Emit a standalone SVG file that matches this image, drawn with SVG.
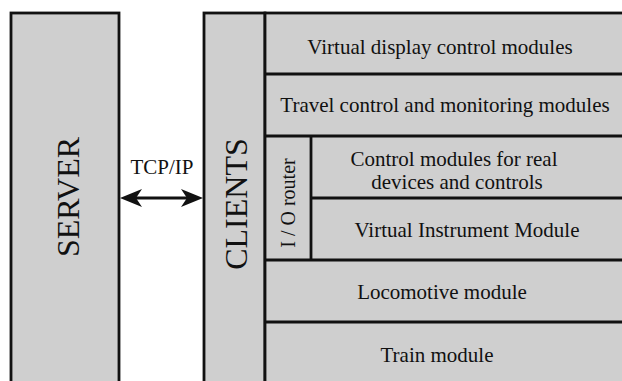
<svg xmlns="http://www.w3.org/2000/svg" width="622" height="381" viewBox="0 0 622 381">
<style>
.box{fill:#cfcfcf;stroke:#111;stroke-width:2.8}
.ln{stroke:#111;stroke-width:2.8;fill:none}
text{font-family:"Liberation Serif","Times New Roman",serif;fill:#111;text-anchor:middle}
.big{font-size:32px}
.t{font-size:21px}
</style>
<rect width="622" height="381" fill="#fff"/>
<g id="server">
<rect class="box" x="11" y="13" width="108" height="400"/>
<text class="big" transform="translate(79,197) rotate(-90)">SERVER</text>
</g>
<g id="clients">
<rect class="box" x="204" y="13" width="61" height="400"/>
<text class="big" transform="translate(247,204) rotate(-90)">CLIENTS</text>
</g>
<g id="modules-area">
<rect class="box" x="265" y="13" width="400" height="400"/>
</g>
<g id="virtual-display">
<text class="t" x="440" y="54">Virtual display control modules</text>
<line class="ln" x1="265" y1="74" x2="622" y2="74"/>
</g>
<g id="travel-control">
<text class="t" x="445" y="112">Travel control and monitoring modules</text>
<line class="ln" x1="265" y1="136" x2="622" y2="136"/>
</g>
<g id="io-router">
<line class="ln" x1="311" y1="136" x2="311" y2="260"/>
<text class="t" transform="translate(295,203) rotate(-90)" style="font-size:20px">I / O router</text>
</g>
<g id="real-devices">
<text class="t" x="454" y="166">Control modules for real</text>
<text class="t" x="457" y="189">devices and controls</text>
<line class="ln" x1="311" y1="198" x2="622" y2="198"/>
</g>
<g id="virtual-instrument">
<text class="t" x="467" y="237">Virtual Instrument Module</text>
<line class="ln" x1="265" y1="260" x2="622" y2="260"/>
</g>
<g id="locomotive">
<text class="t" x="442" y="299">Locomotive module</text>
<line class="ln" x1="265" y1="322" x2="622" y2="322"/>
</g>
<g id="train">
<text class="t" x="437" y="362">Train module</text>
</g>
<g id="connectors">
<line class="ln" x1="130" y1="198" x2="194" y2="198" stroke-width="3"/>
<path d="M120,198 L142,189 L136,198 L142,207 Z" fill="#111"/>
<path d="M203,198 L181,189 L187,198 L181,207 Z" fill="#111"/>
<text class="t" x="162" y="174">TCP/IP</text>
</g>
</svg>
